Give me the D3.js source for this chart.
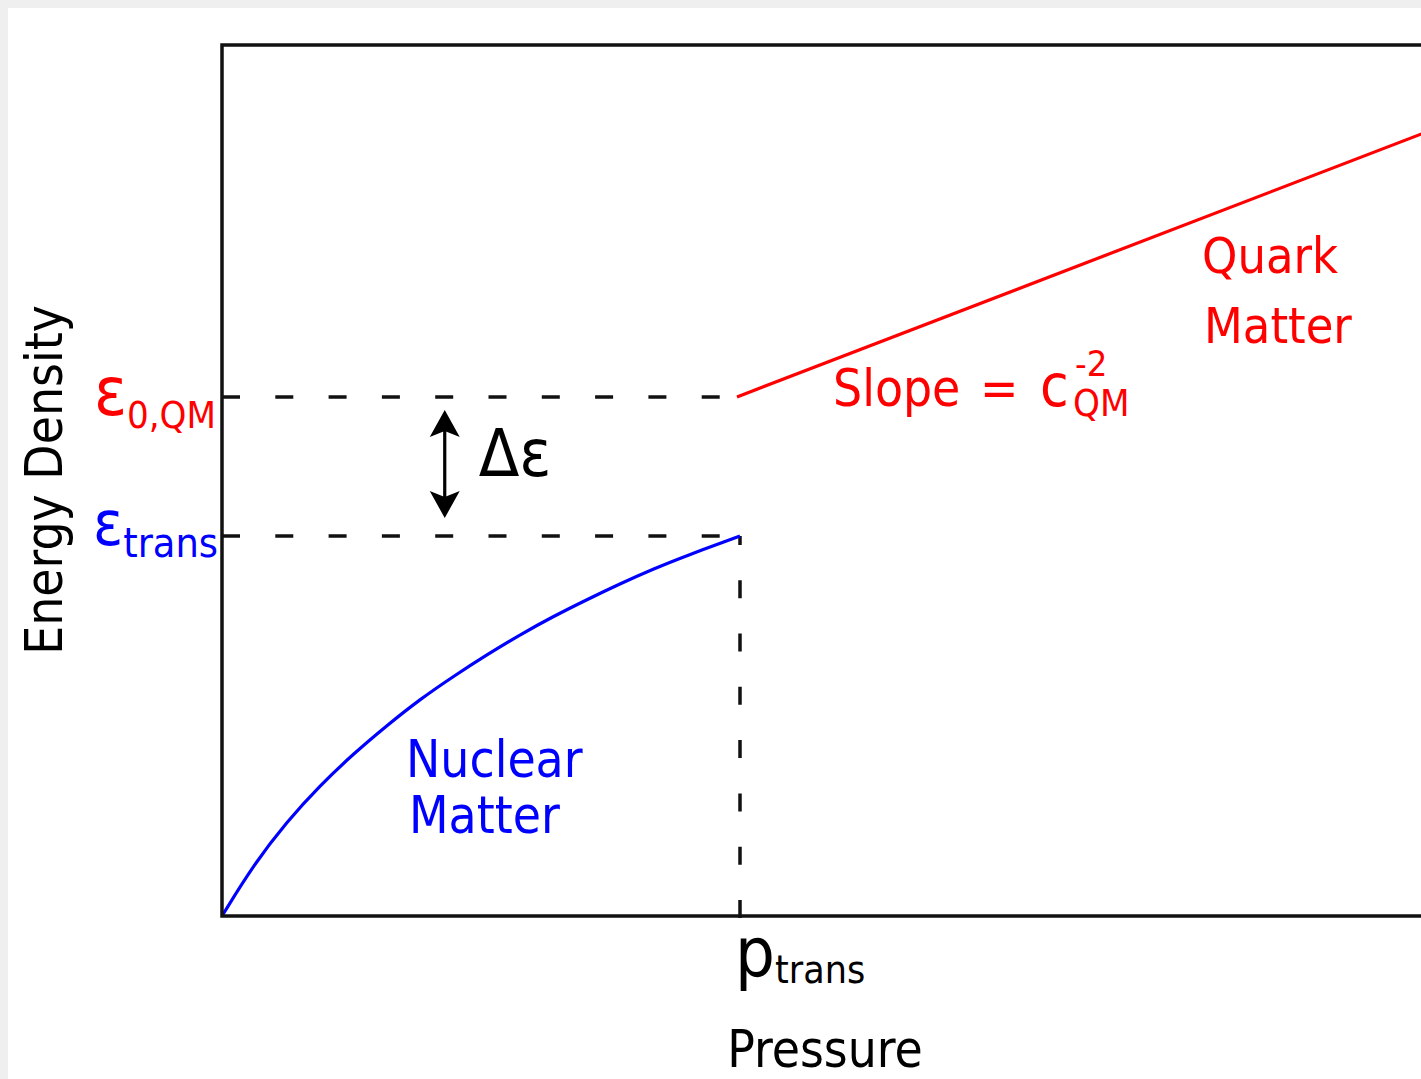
<!DOCTYPE html>
<html><head><meta charset="utf-8">
<script src="https://cdn.jsdelivr.net/npm/d3@7"></script>
<style>
html,body{margin:0;padding:0;background:#efefef;overflow:hidden;}
svg{display:block;}
text{font-family:"DejaVu Sans Condensed","DejaVu Sans",sans-serif;font-stretch:condensed;}
</style></head><body>
<svg id="chart" width="1421" height="1079"></svg>
<script>
// ---- data (arbitrary units: p_trans = 1, eps_trans = 1) ----
const nuclearPressure = [0, 0.060, 0.125, 0.189, 0.253, 0.319, 0.382, 0.446, 0.512, 0.575, 0.639, 0.705, 0.768, 0.832, 0.898, 1.0];
const nuclearEnergy   = [0, 0.133, 0.248, 0.343, 0.426, 0.502, 0.570, 0.630, 0.688, 0.740, 0.788, 0.833, 0.874, 0.913, 0.949, 1.0];
const quarkPressure = [1.0, 2.35];
const quarkEnergy   = [1.366, 2.073];
const pTrans = 1.0;
const epsTrans = 1.0;
const eps0QM = 1.366;
const xDomain = [0, 2.35];
const yDomain = [0, 2.292];

const svg = d3.select("#chart");
const W = 1421, H = 1079;
const margin = {left: 222, top: 45, bottom: 163};
const plotW = 2.35 * 518;

svg.append("rect").attr("x", 8).attr("y", 8).attr("width", W).attr("height", H).attr("fill", "#fff");

const x = d3.scaleLinear().domain(xDomain).range([margin.left, margin.left + plotW]);
const y = d3.scaleLinear().domain(yDomain).range([H - margin.bottom, margin.top]);

const g = svg.append("g");

// dashed guides
const dash = "18,35.3";
g.append("line").attr("x1", x(0)).attr("x2", x(pTrans) - 3).attr("y1", y(eps0QM)).attr("y2", y(eps0QM))
  .attr("stroke", "#111").attr("stroke-width", 3.5).attr("stroke-dasharray", dash);
g.append("line").attr("x1", x(0)).attr("x2", x(pTrans)).attr("y1", y(epsTrans)).attr("y2", y(epsTrans))
  .attr("stroke", "#111").attr("stroke-width", 3.5).attr("stroke-dasharray", dash);
g.append("line").attr("x1", x(pTrans)).attr("x2", x(pTrans)).attr("y1", y(0) + 2).attr("y2", y(epsTrans))
  .attr("stroke", "#111").attr("stroke-width", 3.5).attr("stroke-dasharray", dash);

// nuclear matter curve
const nuc = nuclearPressure.map((p, i) => [p, nuclearEnergy[i]]);
g.append("path").datum(nuc)
  .attr("d", d3.line().x(d => x(d[0])).y(d => y(d[1])).curve(d3.curveBasis))
  .attr("fill", "none").attr("stroke", "#0000ff").attr("stroke-width", 3.2);

// quark matter line
const qm = quarkPressure.map((p, i) => [p, quarkEnergy[i]]);
g.append("path").datum(qm)
  .attr("d", d3.line().x(d => x(d[0]) - 3).y(d => y(d[1])))
  .attr("fill", "none").attr("stroke", "#ff0000").attr("stroke-width", 3.2);

// frame
g.append("rect").attr("x", x(0)).attr("y", y(yDomain[1]))
  .attr("width", x(xDomain[1]) - x(0)).attr("height", y(0) - y(yDomain[1]))
  .attr("fill", "none").attr("stroke", "#111").attr("stroke-width", 3.5);

// double arrow (delta epsilon)
const ax = x(0.43);
const yTop = y(eps0QM) + 13, yBot = y(epsTrans) - 18;
g.append("line").attr("x1", ax).attr("x2", ax).attr("y1", yTop + 20).attr("y2", yBot - 20)
  .attr("stroke", "#000").attr("stroke-width", 3.2);
const head = (tipY, dir) => {
  const h = 27 * dir, w = 15;
  return `M${ax},${tipY} L${ax - w},${tipY + h} L${ax},${tipY + h * 0.78} L${ax + w},${tipY + h} Z`;
};
g.append("path").attr("d", head(yTop, 1)).attr("fill", "#000");
g.append("path").attr("d", head(yBot, -1)).attr("fill", "#000");

// texts
svg.append("text").attr("x", ax + 34).attr("y", 476).attr("font-size", 66).attr("fill", "#000").text("Δε");

const t1 = svg.append("text").attr("x", x(0) - 6).attr("y", y(eps0QM) + 18).attr("text-anchor", "end").attr("fill", "#ff0000");
t1.append("tspan").attr("font-size", 68).text("ε");
t1.append("tspan").attr("font-size", 38).attr("dy", 13).text("0,QM");

const t2 = svg.append("text").attr("x", x(0) - 4).attr("y", y(epsTrans) + 9).attr("text-anchor", "end").attr("fill", "#0000ff");
t2.append("tspan").attr("font-size", 62).text("ε");
t2.append("tspan").attr("font-size", 41).attr("dy", 12).text("trans");

const t3 = svg.append("text").attr("x", x(pTrans) - 5).attr("y", 977).attr("fill", "#000");
t3.append("tspan").attr("font-size", 70).text("p");
t3.append("tspan").attr("font-size", 39).attr("dy", 6).text("trans");

svg.append("text").attr("x", 825).attr("y", 1067).attr("text-anchor", "middle").attr("font-size", 51).attr("fill", "#000").text("Pressure");
svg.append("text").attr("transform", "translate(62,480) rotate(-90)").attr("text-anchor", "middle").attr("font-size", 51).attr("fill", "#000").text("Energy Density");

const nm = svg.append("text").attr("fill", "#0000ff").attr("font-size", 51);
nm.append("tspan").attr("x", 406).attr("y", 777).text("Nuclear");
nm.append("tspan").attr("x", 409).attr("y", 833).text("Matter");

const qmt = svg.append("text").attr("fill", "#ff0000").attr("font-size", 50);
qmt.append("tspan").attr("x", 1202).attr("y", 273).text("Quark");
qmt.append("tspan").attr("x", 1204).attr("y", 343).text("Matter");

svg.append("text").attr("fill", "#ff0000").attr("x", 833).attr("y", 406).attr("font-size", 51).text("Slope");
svg.append("text").attr("fill", "#ff0000").attr("x", 980).attr("y", 406).attr("font-size", 51).text("=");
svg.append("text").attr("fill", "#ff0000").attr("x", 1040).attr("y", 406).attr("font-size", 58).text("c");
svg.append("text").attr("fill", "#ff0000").attr("x", 1075).attr("y", 376).attr("font-size", 36).text("-2");
svg.append("text").attr("fill", "#ff0000").attr("x", 1073).attr("y", 416).attr("font-size", 38).text("QM");
</script>
</body></html>
